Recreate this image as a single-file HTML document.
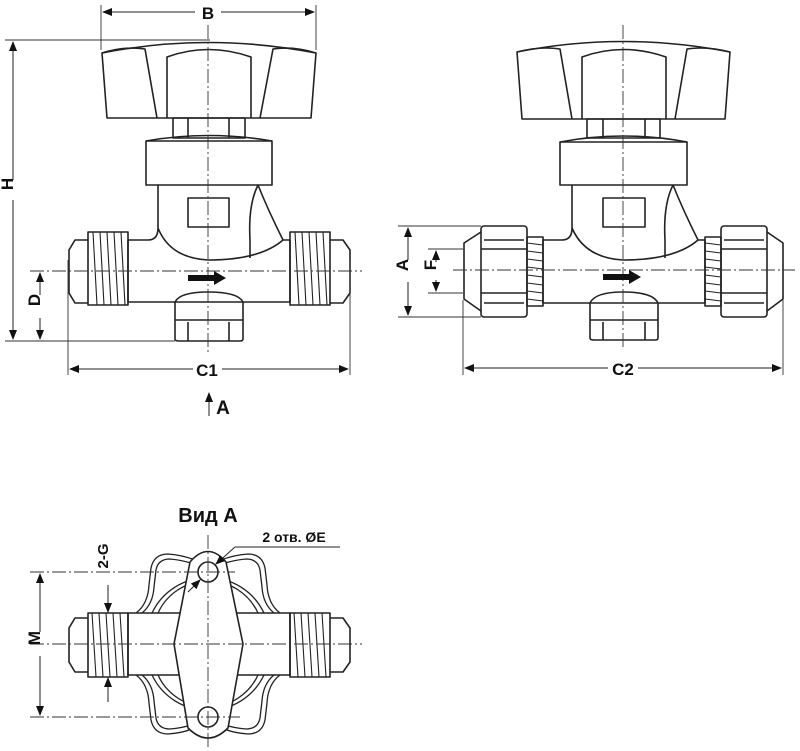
<!DOCTYPE html>
<html><head><meta charset="utf-8"><style>
body{margin:0;background:#fff}
svg{display:block}
text{font-family:"Liberation Sans",sans-serif;font-weight:bold;fill:#111}
</style></head><body>
<svg width="800" height="751" viewBox="0 0 800 751" xmlns="http://www.w3.org/2000/svg">
<defs>
<marker id="ar" markerWidth="10" markerHeight="8" refX="9" refY="4" orient="auto" markerUnits="userSpaceOnUse"><path d="M0,0 L10,4 L0,8 z" fill="#111"/></marker>
</defs>
<g fill="none" stroke="#222" stroke-width="1.6" stroke-linejoin="round">
<!-- LEFT VIEW -->
<path d="M102,53 Q208,32 316,53 L311,118 L107,118 Z" fill="#fff"/>
<path d="M102,53 Q125,46 145,49 L157,118"/>
<path d="M316,53 Q293,46 273,49 L260,118"/>
<path d="M167,118 L167,57 Q208,42 251,57 L251,118"/>
<rect x="173" y="118" width="72" height="20"/>
<line x1="188" y1="118" x2="188" y2="138"/><line x1="229" y1="118" x2="229" y2="138"/>
<path d="M146,141 Q208,130 272,141"/>
<rect x="146" y="141" width="126" height="44"/>
<path d="M158,185 L158,228 Q158,240 148,240 L128,240 M283,240 L290,240 M158,228 Q170,258 208,260 Q260,260 283,240"/>
<path d="M258,185 Q248,205 250,240 L250,258 M258,185 Q268,210 283,240"/>
<rect x="188" y="198" width="41" height="29"/>
<path d="M128,240 L128,302 L290,302 L290,240"/>
<rect x="88" y="232" width="40" height="73"/>
<path d="M88,240 L75,240 L69,250 L69,293 L75,303 L88,303"/>
<g stroke-width="1.1"><path d="M93,232 L97,305 M100,232 L104,305 M107,232 L111,305 M114,232 L118,305 M121,232 L125,305"/></g>
<rect x="290" y="232" width="40" height="73"/>
<path d="M330,240 L343,240 L350,250 L350,293 L343,303 L330,303"/>
<g stroke-width="1.1"><path d="M295,232 L299,305 M302,232 L306,305 M309,232 L313,305 M316,232 L320,305 M323,232 L327,305"/></g>
<path d="M175,320 L175,302 Q180,292 208,292 Q238,292 243,302 L243,320"/>
<path d="M175,320 L175,339 Q175,341 179,341 L240,341 Q243,341 243,339 L243,320 Z"/>
<line x1="188" y1="322" x2="188" y2="341"/><line x1="229" y1="322" x2="229" y2="341"/>

<!-- RIGHT VIEW -->
<path d="M517,52 Q623,31 730,52 L725,119 L522,119 Z" fill="#fff"/>
<path d="M517,52 Q540,46 560,49 L572,119"/>
<path d="M730,52 Q707,46 687,49 L675,119"/>
<path d="M582,119 L582,57 Q623,42 666,57 L666,119"/>
<rect x="587" y="119" width="73" height="19"/>
<line x1="603" y1="119" x2="603" y2="138"/><line x1="645" y1="119" x2="645" y2="138"/>
<path d="M560,142 Q623,130 687,142"/>
<rect x="560" y="142" width="127" height="43"/>
<path d="M572,185 L572,228 Q572,240 562,240 L543,240 M698,240 L705,240 M572,228 Q585,258 623,260 Q675,260 698,240"/>
<path d="M673,185 Q663,205 665,240 L665,258 M673,185 Q683,210 698,240"/>
<rect x="603" y="198" width="42" height="29"/>
<path d="M543,240 L543,303 L705,303 L705,240"/>
<rect x="527" y="237" width="16" height="69"/>
<g stroke-width="1.1"><path d="M527,243 L543,245 M527,251 L543,253 M527,259 L543,261 M527,267 L543,269 M527,275 L543,277 M527,283 L543,285 M527,291 L543,293 M527,299 L543,301"/></g>
<rect x="481" y="226" width="46" height="91" rx="3"/>
<path d="M481,249 L527,249 M481,293 L527,293 M484,240 L524,240 M484,303 L524,303"/>
<path d="M481,232 L464,243 L464,299 L481,311"/>
<rect x="705" y="237" width="16" height="69"/>
<g stroke-width="1.1"><path d="M705,243 L721,245 M705,251 L721,253 M705,259 L721,261 M705,267 L721,269 M705,275 L721,277 M705,283 L721,285 M705,291 L721,293 M705,299 L721,301"/></g>
<rect x="721" y="226" width="46" height="91" rx="3"/>
<path d="M721,249 L767,249 M721,293 L767,293 M724,240 L764,240 M724,303 L764,303"/>
<path d="M767,232 L783,243 L783,299 L767,311"/>
<path d="M590,320 L590,303 Q595,292 623,292 Q653,292 658,303 L658,320"/>
<path d="M590,320 L590,338 Q590,340 594,340 L655,340 Q658,340 658,338 L658,320 Z"/>
<line x1="603" y1="322" x2="603" y2="340"/><line x1="645" y1="322" x2="645" y2="340"/>

<!-- BOTTOM VIEW -->
<g stroke-width="1.3">
<path d="M136,613 Q148,604 149,585 L151,568 Q154,554 168,554 Q182,555 195,560"/>
<path d="M142,613 Q153,604 154,587 L156,570 Q158,559 170,559 Q182,560 194,564"/>
<path d="M280,613 Q268,604 267,585 L265,568 Q262,554 248,554 Q234,555 221,560"/>
<path d="M274,613 Q263,604 262,587 L260,570 Q258,559 246,559 Q234,560 222,564"/>
<path d="M136,675 Q148,684 149,703 L151,720 Q154,734 168,734 Q182,733 192,729"/>
<path d="M142,675 Q153,684 154,701 L156,718 Q158,729 170,729 Q182,728 191,725"/>
<path d="M280,675 Q268,684 267,703 L265,720 Q262,734 248,734 Q234,733 224,729"/>
<path d="M274,675 Q263,684 262,701 L260,718 Q258,729 246,729 Q234,728 225,725"/>
<path d="M152,613 A62,62 0 0 1 264,613 M152,675 A62,62 0 0 0 264,675"/>
<path d="M158,613 A55,55 0 0 1 258,613 M158,675 A55,55 0 0 0 258,675"/>
</g>
<rect x="128" y="613" width="162" height="62"/>
<rect x="88" y="613" width="40" height="64"/>
<path d="M88,618 L75,618 L69,628 L69,662 L75,672 L88,672"/>
<g stroke-width="1.1"><path d="M92,613 L96,677 M99,613 L103,677 M106,613 L110,677 M113,613 L117,677 M120,613 L124,677"/></g>
<rect x="290" y="613" width="40" height="64"/>
<path d="M330,618 L343,618 L350,628 L350,662 L343,672 L330,672"/>
<g stroke-width="1.1"><path d="M294,613 L298,677 M301,613 L305,677 M308,613 L312,677 M315,613 L319,677 M322,613 L326,677"/></g>
<path d="M190,562 Q208,541 226,562 L243,644 L228,728 Q208,748 188,728 L174,644 Z" fill="#fff"/>
<circle cx="208" cy="572" r="10"/>
<circle cx="208" cy="717" r="10"/>
</g>

<g fill="none" stroke="#333" stroke-width="0.9">
<g stroke-dasharray="14,3,2,3">
<line x1="208" y1="25" x2="208" y2="352"/>
<line x1="30" y1="271" x2="362" y2="271"/>
<line x1="623" y1="25" x2="623" y2="350"/>
<line x1="453" y1="270" x2="795" y2="270"/>
<line x1="208" y1="535" x2="208" y2="750"/>
<line x1="30" y1="644" x2="362" y2="644"/>
<line x1="30" y1="572" x2="235" y2="572"/>
<line x1="30" y1="717" x2="240" y2="717"/>
</g>
<line x1="101" y1="5" x2="101" y2="50"/><line x1="316" y1="5" x2="316" y2="50"/>
<line x1="5" y1="40" x2="210" y2="40"/><line x1="5" y1="341" x2="175" y2="341"/>
<line x1="68" y1="260" x2="68" y2="375"/><line x1="350" y1="260" x2="350" y2="375"/>
<line x1="463" y1="300" x2="463" y2="375"/><line x1="783" y1="300" x2="783" y2="375"/>
<line x1="398" y1="226" x2="481" y2="226"/><line x1="398" y1="317" x2="481" y2="317"/>
<line x1="428" y1="249" x2="463" y2="249"/><line x1="428" y1="293" x2="463" y2="293"/>
</g>
<g stroke="#222" stroke-width="1" marker-end="url(#ar)">
<line x1="195" y1="12" x2="103" y2="12"/><line x1="221" y1="12" x2="314" y2="12"/>
<line x1="13" y1="180" x2="13" y2="42"/><line x1="13" y1="200" x2="13" y2="339"/>
<line x1="40" y1="295" x2="40" y2="273"/><line x1="40" y1="318" x2="40" y2="339"/>
<line x1="193" y1="369" x2="70" y2="369"/><line x1="222" y1="369" x2="348" y2="369"/>
<line x1="608" y1="368" x2="465" y2="368"/><line x1="638" y1="368" x2="781" y2="368"/>
<line x1="408" y1="260" x2="408" y2="228"/><line x1="408" y1="282" x2="408" y2="315"/>
<line x1="436" y1="262" x2="436" y2="251"/><line x1="436" y1="280" x2="436" y2="291"/>
<line x1="209" y1="416" x2="209" y2="393"/>
<line x1="40" y1="632" x2="40" y2="574"/><line x1="40" y1="656" x2="40" y2="715"/>
<line x1="108" y1="585" x2="108" y2="612"/><line x1="108" y1="702" x2="108" y2="678"/>
<line x1="188" y1="592" x2="200" y2="580"/><line x1="235" y1="547" x2="216" y2="564"/>
</g>
<line x1="235" y1="547" x2="340" y2="547" stroke="#222" stroke-width="1"/>
<polygon points="188,275 214,275 214,271 226,278 214,285 214,281 188,281" fill="#111"/>
<polygon points="603,274 629,274 629,270 641,277 629,284 629,280 603,280" fill="#111"/>

<text x="208" y="19" font-size="17" text-anchor="middle">B</text>
<text x="19" y="190" font-size="17" text-anchor="middle" transform="rotate(-90 13 190)">H</text>
<text x="46" y="306" font-size="17" text-anchor="middle" transform="rotate(-90 40 306)">D</text>
<text x="207" y="376" font-size="17" text-anchor="middle">C1</text>
<text x="223" y="414" font-size="19" text-anchor="middle">A</text>
<text x="623" y="375" font-size="17" text-anchor="middle">C2</text>
<text x="414" y="271" font-size="17" text-anchor="middle" transform="rotate(-90 408 271)">A</text>
<text x="442" y="271" font-size="17" text-anchor="middle" transform="rotate(-90 436 271)">F</text>
<text x="208" y="522" font-size="20" text-anchor="middle">Вид А</text>
<text x="294" y="542" font-size="14" text-anchor="middle">2 отв. ØE</text>
<text x="46" y="644" font-size="17" text-anchor="middle" transform="rotate(-90 40 644)">M</text>
<text x="114" y="562" font-size="15" text-anchor="middle" transform="rotate(-90 108 562)">2-G</text>
</svg>
</body></html>
